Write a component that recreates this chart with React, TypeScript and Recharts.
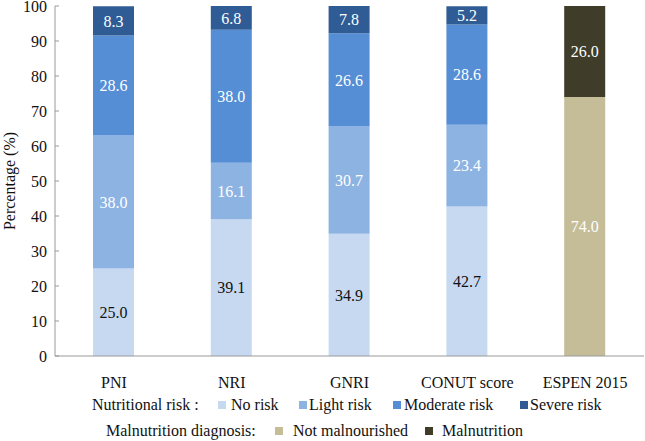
import React from 'react';
import { BarChart, Bar, XAxis, YAxis, Legend, LabelList } from 'recharts';

const categories = ['PNI', 'NRI', 'GNRI', 'CONUT score', 'ESPEN 2015'];
const noRisk = [25.0, 39.1, 34.9, 42.7, null];
const lightRisk = [38.0, 16.1, 30.7, 23.4, null];
const moderateRisk = [28.6, 38.0, 26.6, 28.6, null];
const severeRisk = [8.3, 6.8, 7.8, 5.2, null];
const notMalnourished = [null, null, null, null, 74.0];
const malnutrition = [null, null, null, null, 26.0];
const yTicks = [0, 10, 20, 30, 40, 50, 60, 70, 80, 90, 100];

const data = categories.map((c, i) => ({
  name: c,
  noRisk: noRisk[i],
  lightRisk: lightRisk[i],
  moderateRisk: moderateRisk[i],
  severeRisk: severeRisk[i],
  notMalnourished: notMalnourished[i],
  malnutrition: malnutrition[i],
}));

const FONT = "'Liberation Serif', serif";

const series = [
  { key: 'noRisk', name: 'No risk', color: '#c6d9f1', text: '#111' },
  { key: 'lightRisk', name: 'Light risk', color: '#8db3e2', text: '#fff' },
  { key: 'moderateRisk', name: 'Moderate risk', color: '#558ed5', text: '#fff' },
  { key: 'severeRisk', name: 'Severe risk', color: '#2f5c94', text: '#fff' },
  { key: 'notMalnourished', name: 'Not malnourished', color: '#c4bd97', text: '#fff' },
  { key: 'malnutrition', name: 'Malnutrition', color: '#3f3c2a', text: '#fff' },
];

const YTick = (props: any) => {
  const { x, y, payload } = props;
  return (
    <g>
      <line x1={x} x2={x + 4} y1={y} y2={y} stroke="#999" strokeWidth={1} />
      <text x={x - 8} y={y} dy={5.5} textAnchor="end" style={{ fontFamily: FONT }} fontSize={16} fill="#111">
        {payload.value}
      </text>
    </g>
  );
};

const fmt = (v: any) => (v == null ? '' : Number(v).toFixed(1));

const row1 = [
  { i: 0, sw: 218, tx: 231 },
  { i: 1, sw: 299, tx: 309 },
  { i: 2, sw: 393, tx: 404 },
  { i: 3, sw: 520, tx: 530 },
];
const row2 = [
  { i: 4, sw: 275, tx: 293 },
  { i: 5, sw: 425, tx: 442 },
];

const textStyle: React.CSSProperties = { position: 'absolute', whiteSpace: 'nowrap', lineHeight: '18px', height: 18 };

const LegendContent = () => (
  <div style={{ position: 'relative', width: 645, height: 53, fontFamily: FONT, fontSize: 16, color: '#111' }}>
    <span style={{ ...textStyle, left: 92, top: 8 }}>Nutritional risk :</span>
    {row1.map((r) => (
      <React.Fragment key={r.i}>
        <span style={{ position: 'absolute', left: r.sw, top: 13, width: 8, height: 8, background: series[r.i].color }} />
        <span style={{ ...textStyle, left: r.tx, top: 8 }}>{series[r.i].name}</span>
      </React.Fragment>
    ))}
    <span style={{ ...textStyle, left: 106, top: 34 }}>Malnutrition diagnosis:</span>
    {row2.map((r) => (
      <React.Fragment key={r.i}>
        <span style={{ position: 'absolute', left: r.sw, top: 39, width: 8, height: 8, background: series[r.i].color }} />
        <span style={{ ...textStyle, left: r.tx, top: 34 }}>{series[r.i].name}</span>
      </React.Fragment>
    ))}
  </div>
);

export default function App() {
  return (
    <div style={{ position: 'absolute', left: 0, top: 0, width: 645, height: 441, background: '#fff' }}>
      <BarChart width={645} height={441} data={data} margin={{ top: 6, right: 1, left: 0, bottom: 0 }} barSize={41}>
        <XAxis
          dataKey="name"
          tickLine={false}
          axisLine={{ stroke: '#999' }}
          tick={{ style: { fontFamily: FONT }, fontSize: 16, fill: '#111' }}
          tickMargin={15}
          height={32}
          interval={0}
        />
        <YAxis
          domain={[0, 100]}
          ticks={yTicks}
          width={55}
          tickSize={0}
          tickMargin={0}
          tickLine={false}
          axisLine={{ stroke: '#999' }}
          tick={<YTick />}
          interval={0}
          label={{ value: 'Percentage (%)', angle: -90, position: 'insideLeft', offset: 9, style: { fontFamily: FONT, fontSize: 16, fill: '#111', textAnchor: 'middle' } }}
        />
        <Legend verticalAlign="bottom" height={53} content={<LegendContent />} />
        {series.map((s) => (
          <Bar key={s.key} dataKey={s.key} name={s.name} stackId="a" fill={s.color} isAnimationActive={false}>
            <LabelList dataKey={s.key} position="center" formatter={fmt} style={{ fontFamily: FONT, fontSize: 16, fill: s.text }} />
          </Bar>
        ))}
      </BarChart>
    </div>
  );
}
